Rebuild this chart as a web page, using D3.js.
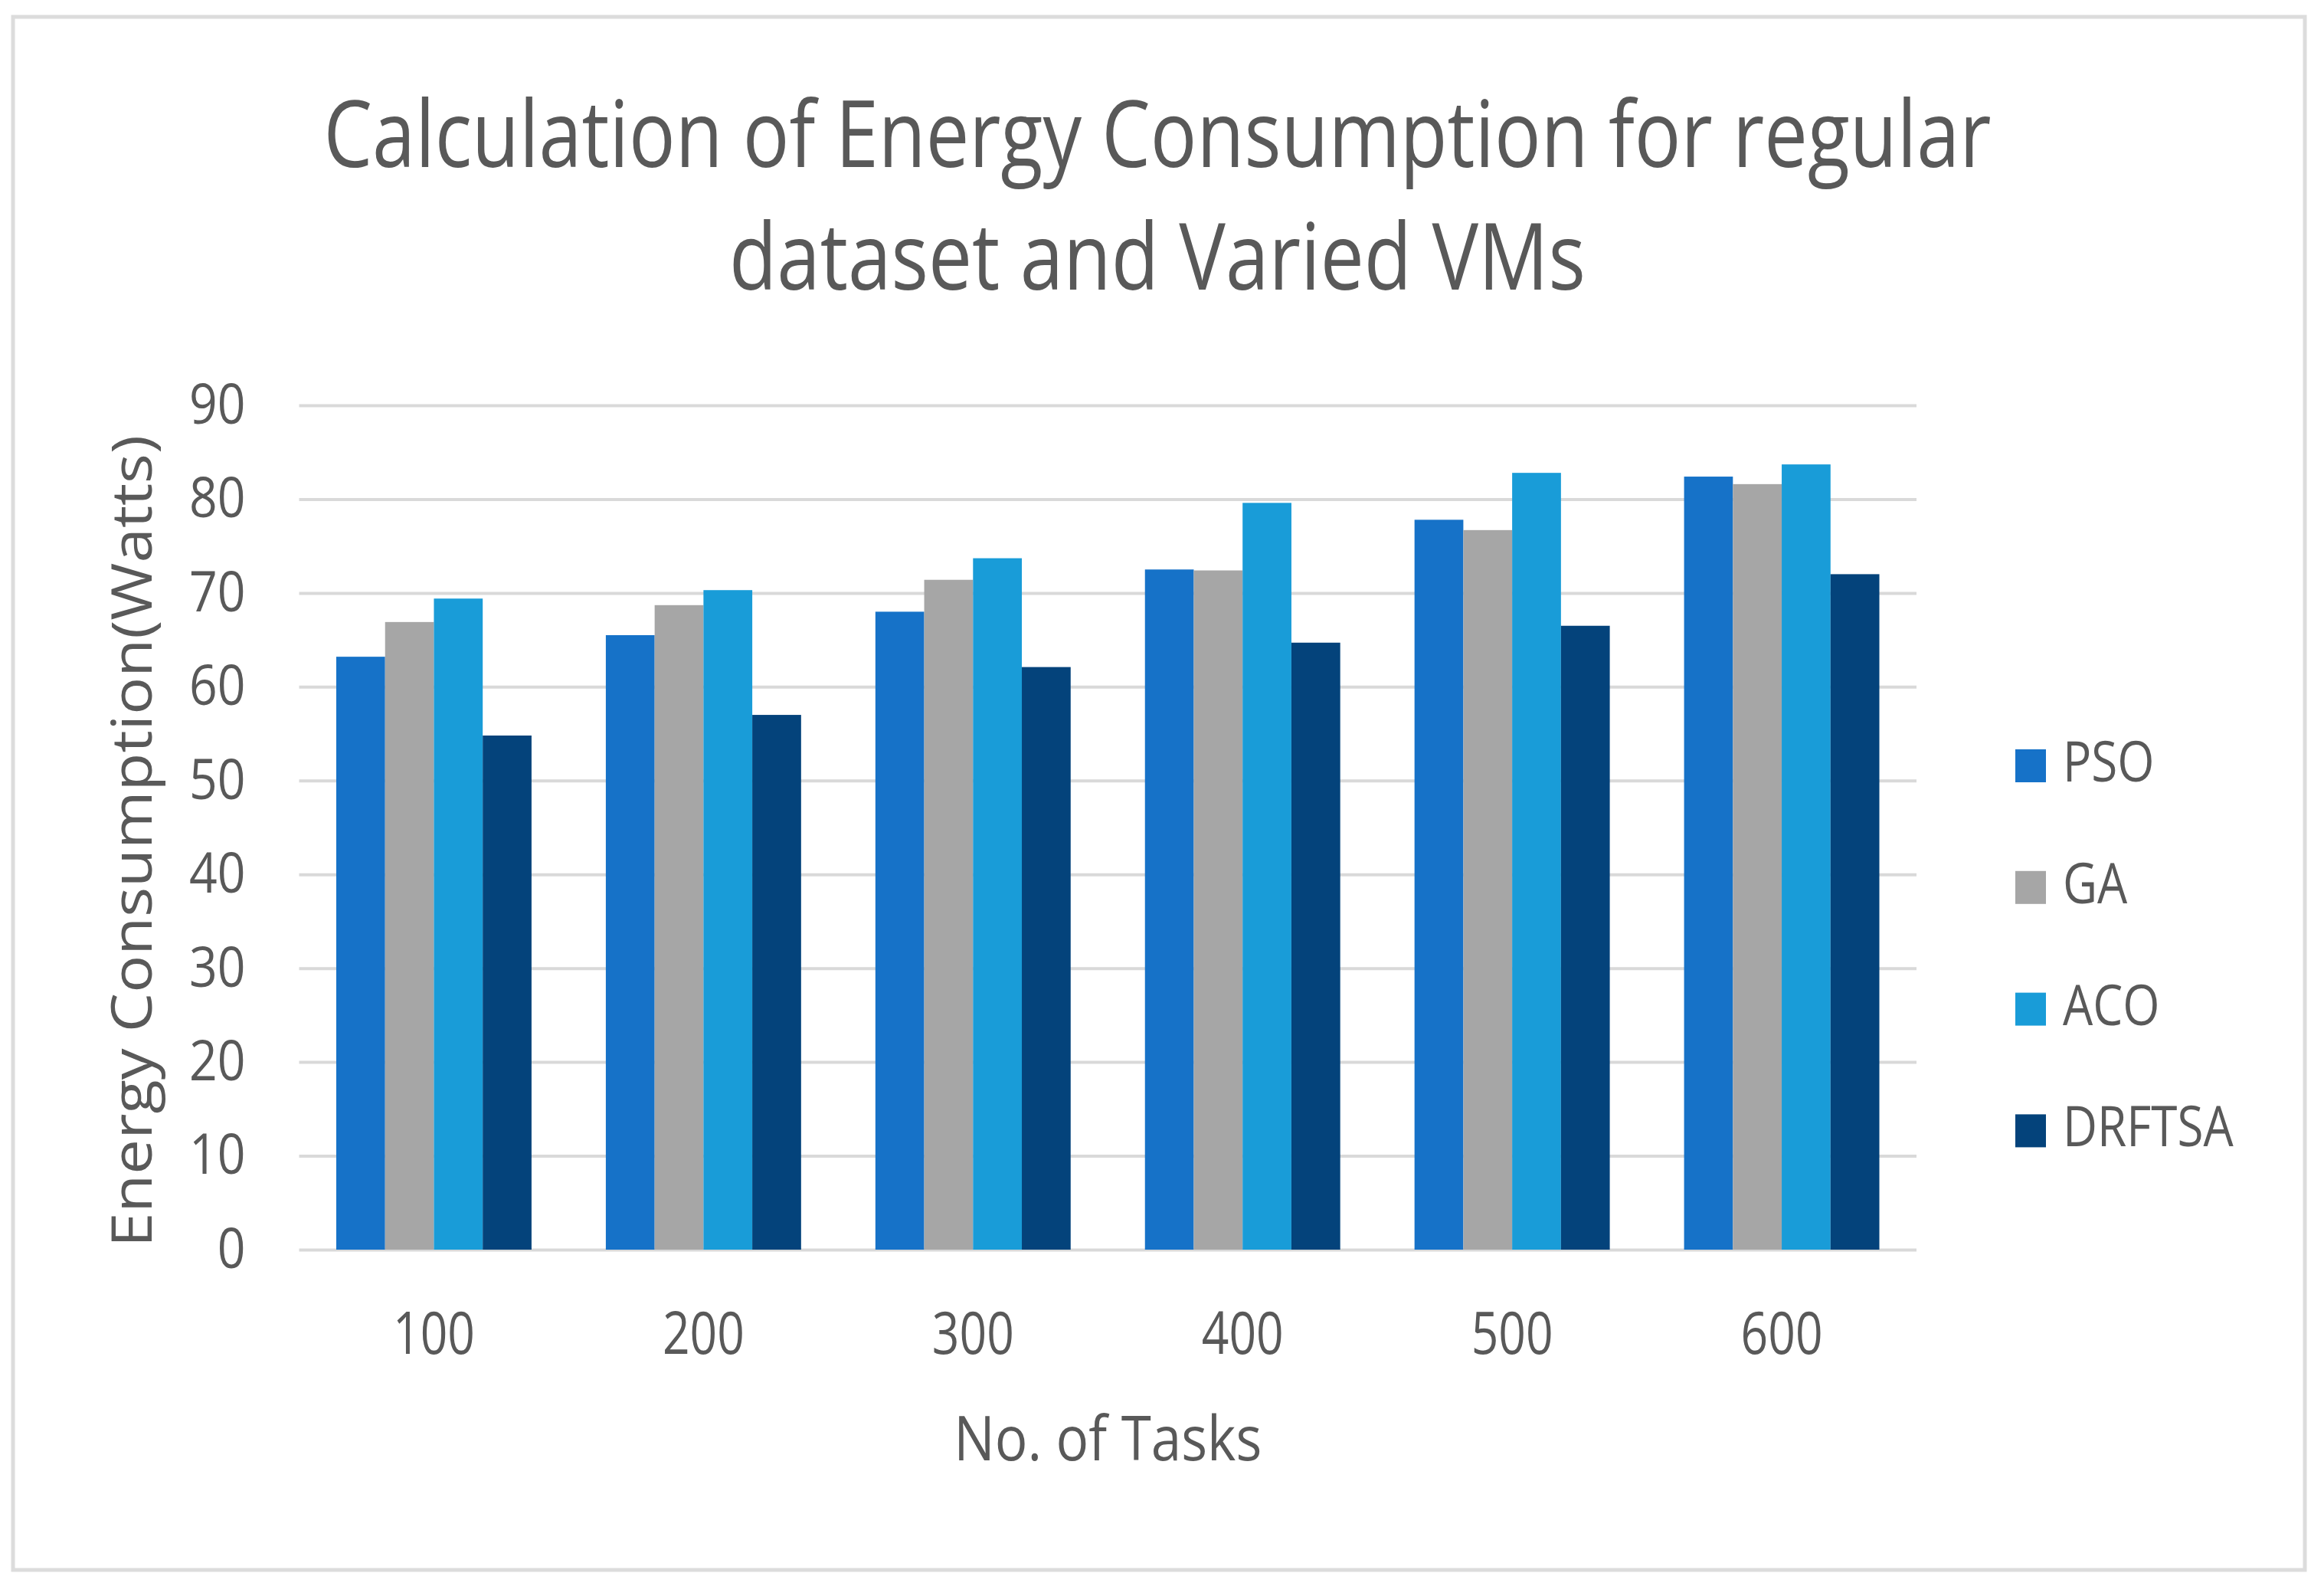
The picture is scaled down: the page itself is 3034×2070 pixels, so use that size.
<!DOCTYPE html>
<html>
<head>
<meta charset="utf-8">
<script src="https://cdn.jsdelivr.net/npm/d3@7"></script>
<style>
  body { margin: 0; background: #fff; }
  text { font-family: "Open Sans", "Liberation Sans", sans-serif; fill: #595959; }
</style>
</head>
<body>
<svg id="chart" width="3034" height="2070"></svg>
<script>
// data
const tasks = ["100", "200", "300", "400", "500", "600"];
const seriesNames = ["PSO", "GA", "ACO", "DRFTSA"];
const pso = [63.2, 65.5, 68.0, 72.5, 77.8, 82.4];
const ga = [66.9, 68.7, 71.4, 72.4, 76.7, 81.6];
const aco = [69.4, 70.3, 73.7, 79.6, 82.8, 83.7];
const drftsa = [54.8, 57.0, 62.1, 64.7, 66.5, 72.0];
const yTicks = [0, 10, 20, 30, 40, 50, 60, 70, 80, 90];
const colors = ["#1672C8", "#A6A6A6", "#199CD8", "#04437B"];

const seriesValues = [pso, ga, aco, drftsa];

var svg = d3.select("#chart");

// outer frame
svg.append("rect")
  .attr("x", 17).attr("y", 22)
  .attr("width", 2992).attr("height", 2027)
  .attr("fill", "#fff")
  .attr("stroke", "#DCDCDC")
  .attr("stroke-width", 5);

// plot box (window.top is taken, so prefixed names)
var plotLeft = 390.5, plotRight = 2502, plotTop = 529, plotBottom = 1631;

var x = d3.scaleBand()
  .domain(tasks)
  .range([plotLeft, plotRight])
  .paddingInner(0.2756)
  .paddingOuter(0.1378);

var xInner = d3.scaleBand()
  .domain(seriesNames)
  .range([0, x.bandwidth()])
  .padding(0);

var y = d3.scaleLinear()
  .domain([0, 90])
  .range([plotBottom, plotTop]);

var color = d3.scaleOrdinal().domain(seriesNames).range(colors);

// squeeze text horizontally (source font is narrower)
function squeeze(sel, k) {
  sel.each(function() {
    var w = this.getComputedTextLength();
    d3.select(this).attr("textLength", w * k).attr("lengthAdjust", "spacingAndGlyphs");
  });
}

// gridlines + y tick labels
var yAxis = svg.append("g")
  .attr("transform", "translate(" + plotLeft + ",0)")
  .call(d3.axisLeft(y).tickValues(yTicks).tickSize(-(plotRight - plotLeft)).tickPadding(70));
yAxis.select(".domain").remove();
yAxis.selectAll("line").attr("stroke", "#D9D9D9").attr("stroke-width", 4);
yAxis.selectAll("text")
  .style("font-size", "73px")
  .style("font-family", "'Open Sans', sans-serif")
  .attr("fill", "#595959");
squeeze(yAxis.selectAll("text"), 0.88);

// bars
var rows = tasks.map(function(t, i) {
  return { task: t, values: seriesNames.map(function(s, j) { return { key: s, value: seriesValues[j][i] }; }) };
});

svg.append("g")
  .selectAll("g")
  .data(rows)
  .enter()
  .append("g")
  .attr("transform", d => "translate(" + x(d.task) + ",0)")
  .selectAll("rect")
  .data(d => d.values)
  .enter()
  .append("rect")
  .attr("x", d => xInner(d.key))
  .attr("y", d => y(d.value))
  .attr("width", xInner.bandwidth())
  .attr("height", d => y(0) - y(d.value))
  .attr("fill", d => color(d.key));

// x axis labels
var xAxis = svg.append("g")
  .attr("transform", "translate(0," + plotBottom + ")")
  .call(d3.axisBottom(x).tickSize(0).tickPadding(81));
xAxis.select(".domain").remove();
xAxis.selectAll("text")
  .style("font-size", "77px")
  .style("font-family", "'Open Sans', sans-serif")
  .attr("fill", "#595959");
squeeze(xAxis.selectAll("text"), 0.81);

// title
var titleLines = ["Calculation of Energy Consumption for regular", "dataset and Varied VMs"];
var titleWidths = [2177, 1118];
svg.append("g")
  .selectAll("text")
  .data(titleLines)
  .enter()
  .append("text")
  .attr("x", 1511)
  .attr("y", (d, i) => 218 + i * 160)
  .attr("text-anchor", "middle")
  .style("font-size", "120px")
  .text(d => d)
  .attr("textLength", (d, i) => titleWidths[i])
  .attr("lengthAdjust", "spacingAndGlyphs");

// axis titles
svg.append("text")
  .attr("transform", "translate(198,1098) rotate(-90)")
  .attr("text-anchor", "middle")
  .style("font-size", "73px")
  .attr("textLength", 1060)
  .attr("lengthAdjust", "spacingAndGlyphs")
  .text("Energy Consumption(Watts)");

svg.append("text")
  .attr("x", (plotLeft + plotRight) / 2)
  .attr("y", 1906)
  .attr("text-anchor", "middle")
  .style("font-size", "81px")
  .attr("textLength", 402)
  .attr("lengthAdjust", "spacingAndGlyphs")
  .text("No. of Tasks");

// legend
var legend = svg.append("g")
  .selectAll("g")
  .data(seriesNames)
  .enter()
  .append("g")
  .attr("transform", (d, i) => "translate(2631," + (1020 + i * 158.8) + ")");

legend.append("rect")
  .attr("x", 0).attr("y", -42)
  .attr("width", 40).attr("height", 43)
  .attr("fill", d => color(d));

var legendText = legend.append("text")
  .attr("x", 62)
  .attr("y", 0)
  .style("font-size", "73px")
  .text(d => d);
squeeze(legendText, 0.85);
</script>
</body>
</html>
